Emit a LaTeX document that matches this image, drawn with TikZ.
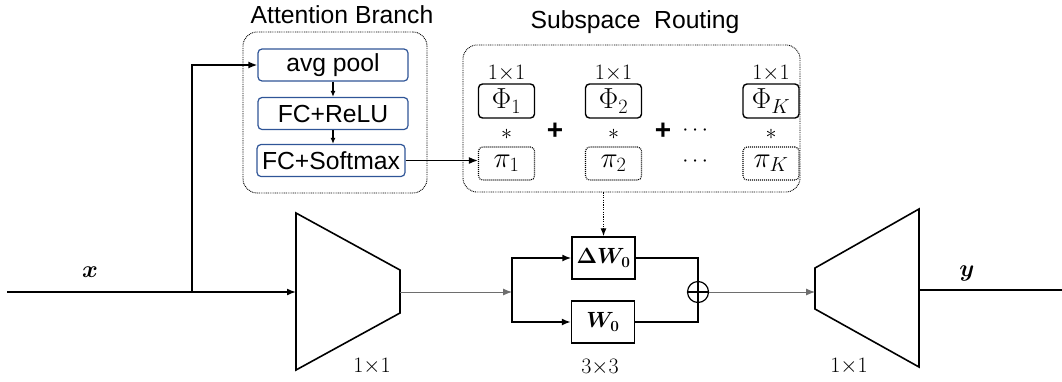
\documentclass[tikz,border=0pt]{standalone}
\usepackage{fix-cm}
\usepackage{amsmath,bm}
\usepackage{fontspec}
\setmainfont{Liberation Sans}
\usetikzlibrary{arrows.meta}
\definecolor{boxblue}{RGB}{47,85,151}
\definecolor{thingray}{RGB}{110,110,110}
\begin{document}
\begin{tikzpicture}[x=1pt,y=-1pt,
  sans/.style={font=\fontsize{24.7}{28}\selectfont},
  mth/.style={font=\fontsize{22}{26}\selectfont},
  big/.style={font=\fontsize{29}{32}\selectfont},
  blk/.style={draw=boxblue, line width=1.2pt, rounded corners=4pt, minimum width=150pt, minimum height=32pt, inner sep=0pt, sans},
  grp/.style={draw, line width=0.9pt, dash pattern=on 0.9pt off 0.9pt, rounded corners=14pt, inner sep=0pt},
  phib/.style={draw, line width=1.4pt, rounded corners=4pt, minimum width=56pt, minimum height=34pt, inner sep=0pt, big},
  pib/.style={draw, line width=1.1pt, dash pattern=on 1pt off 1pt, rounded corners=4pt, minimum width=56pt, minimum height=33pt, inner sep=0pt, big},
  wbox/.style={draw, line width=1.4pt, minimum width=63pt, minimum height=42pt, inner sep=0pt, font=\fontsize{22}{26}\selectfont},
  ln/.style={line width=1.6pt},
  arr/.style={-{Latex[length=9pt,width=7pt]}, line width=1.6pt},
  sarr/.style={-{Latex[length=6pt,width=5pt]}, line width=1.2pt},
  garr/.style={-{Latex[length=9pt,width=7pt]}, line width=0.9pt, draw=thingray},
  darr/.style={-{Latex[length=8pt,width=6pt]}, line width=1.2pt, dash pattern=on 1.2pt off 1.2pt},
  trap/.style={line width=1.6pt, line join=miter}
]
\useasboundingbox (0,0) rectangle (1062,381);

% Attention branch
\node[grp, minimum width=184pt, minimum height=161pt] (att) at (335,112.5) {};
\node[sans] (attt) at (342,15) {Attention Branch};
\node[blk] (avg) at (333,65) {avg pool};
\node[blk] (fcr) at (333,113.5) {FC+ReLU};
\node[blk, minimum width=148pt] (fcs) at (331,160.5) {FC+Softmax};
\draw[sarr] (avg.south) -- (fcr.north);
\draw[sarr] (fcr.south) -- (fcs.north -| fcr.south);

% Subspace routing
\node[grp, minimum width=337pt, minimum height=147pt] (sub) at (631.5,118.5) {};
\node[sans] (subt) at (635,22) {Subspace\ \ Routing};
\node[phib] (p1) at (506.5,101) {$\Phi_1$};
\node[phib] (p2) at (613.5,101) {$\Phi_2$};
\node[phib] (pk) at (771,101) {$\Phi_K$};
\node[mth] (k1) at (506.5,73) {$1{\times}1$};
\node[mth] (k2) at (613.5,73) {$1{\times}1$};
\node[mth] (kk) at (771,73) {$1{\times}1$};
\node[mth] (s1) at (506.5,134) {$\ast$};
\node[mth] (s2) at (613.5,134) {$\ast$};
\node[mth] (sk) at (771,134) {$\ast$};
\node[pib] (q1) at (506.5,163.5) {$\pi_1$};
\node[pib] (q2) at (613.5,163.5) {$\pi_2$};
\node[pib] (qk) at (771,163.5) {$\pi_K$};
\node[font=\fontsize{28}{30}\selectfont\bfseries] (pl1) at (555,131) {+};
\node[font=\fontsize{28}{30}\selectfont\bfseries] (pl2) at (663,131) {+};
\node[mth] (d1) at (697,131) {$\cdots$};
\node[mth] (d2) at (697,162) {$\cdots$};
\draw[arr] (fcs.east) -- (fcs.east -| q1.west);

% Main path
\coordinate (in) at (7,292);
\coordinate (br) at (192,292);
\coordinate (la) at (296,213);
\coordinate (lb) at (400,270);
\coordinate (lc) at (400,313);
\coordinate (ld) at (296,370);
\coordinate (lin) at (296,292);
\coordinate (lout) at (400,292);
\draw[trap] (la) -- (lb) -- (lc) -- (ld) -- cycle;
\node[mth] (l11) at (372,366) {$1{\times}1$};
\node[font=\fontsize{24}{27}\selectfont] (xl) at (90,272) {$\boldsymbol{x}$};
\draw[arr] (in) -- (lin);
\draw[arr] (br) |- (avg.west);

\coordinate (sp) at (512,292);
\node[wbox] (dw) at (603.5,258) {$\boldsymbol{\Delta W_0}$};
\node[wbox] (w) at (603,322) {$\boldsymbol{W_0}$};
\node[draw, circle, line width=1.2pt, minimum size=21pt, inner sep=0pt] (op) at (698,292) {};
\draw[line width=1.2pt] (op.north) -- (op.south) (op.west) -- (op.east);
\node[mth] (l33) at (600,367) {$3{\times}3$};
\draw[garr] (lout) -- (sp);
\draw[arr] (sp) |- (dw.west);
\draw[arr] (sp) |- (w.west);
\draw[ln] (dw.east) -| (op.north);
\draw[ln] (w.east) -| (op.south);
\draw[darr] (sub.south -| dw.north) -- (dw.north);

\coordinate (ra) at (815,268);
\coordinate (rb) at (919,209);
\coordinate (rc) at (919,367);
\coordinate (rd) at (815,309);
\coordinate (rin) at (815,292);
\coordinate (rout) at (919,290);
\coordinate (out) at (1062,290);
\draw[trap] (ra) -- (rb) -- (rc) -- (rd) -- cycle;
\node[mth] (r11) at (849,366) {$1{\times}1$};
\draw[garr] (op.east) -- (rin);
\draw[ln] (rout) -- (out);
\node[font=\fontsize{24}{27}\selectfont] (yl) at (967,273) {$\boldsymbol{y}$};
\end{tikzpicture}
\end{document}
